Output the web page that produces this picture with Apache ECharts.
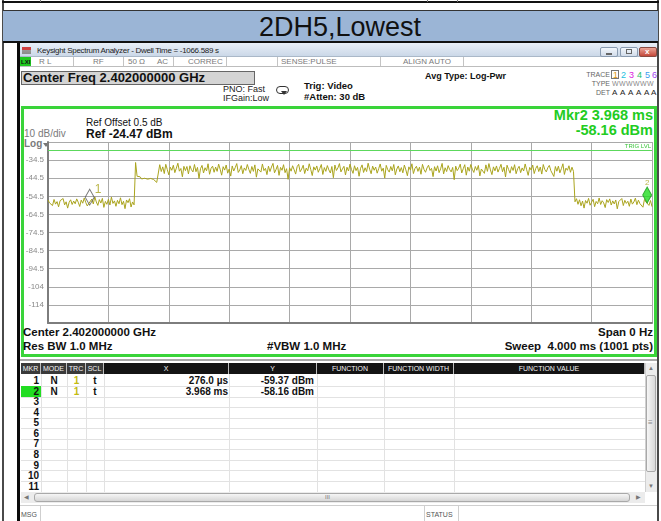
<!DOCTYPE html>
<html>
<head>
<meta charset="utf-8">
<script src="https://cdn.jsdelivr.net/npm/echarts@6/dist/echarts.min.js"></script>
<style>
  html, body { margin: 0; padding: 0; background: #fff; }
  #page { position: relative; width: 661px; height: 521px; overflow: hidden; font-family: "Liberation Sans", Arial, sans-serif; color: #111; }
  .a { position: absolute; box-sizing: border-box; }
  .t { position: absolute; white-space: nowrap; line-height: 1; }
  .b { font-weight: bold; }
  .st { font-size: 8px; color: #7a7a7a; top: 57.5px; }
  .sd { position: absolute; top: 57px; width: 1px; height: 9px; background: #c4c4c4; }
  .tr { position: absolute; top: 70.5px; font-size: 9px; line-height: 1; }
  .dt { position: absolute; top: 88.5px; font-size: 8px; line-height: 1; color: #222; }
  #chart { position: absolute; left: 0; top: 0; width: 661px; height: 521px; z-index: 5; }
</style>
</head>
<body>
<div id="page">
  <!-- document frame around the screenshot -->
  <div class="a" style="left:2px;top:0;width:2px;height:521px;background:#4a4a4a"></div>
  <div class="a" style="left:657px;top:0;width:2px;height:521px;background:#4a4a4a"></div>
  <div class="a" style="left:2px;top:1px;width:657px;height:2px;background:#111"></div>
  <div class="a" style="left:40px;top:0;width:1px;height:2px;background:#777"></div>
  <div class="a" style="left:427px;top:0;width:1px;height:2px;background:#777"></div>
  <div class="a" style="left:457px;top:0;width:1px;height:2px;background:#777"></div>
  <div class="a" style="left:3px;top:10px;width:655px;height:33px;background:#9bb5d6;border-top:1px solid #333;border-bottom:2px solid #111"></div>
  <div class="t" style="left:0;width:680px;text-align:center;top:14px;font-size:27px;color:#111">2DH5,Lowest</div>

  <!-- analyzer window -->
  <div class="a" style="left:17px;top:43px;width:3px;height:478px;background:#0a0a0a"></div>
  <div class="a" style="left:20px;top:43px;width:637px;height:14px;background:linear-gradient(#e9eff7,#cbd8e8);border-bottom:1px solid #aab8c8"></div>
  <div class="a" style="left:22px;top:47px;width:9px;height:7px;background:linear-gradient(#d04040 0,#d04040 40%,#9a9a9a 40%,#8a8a8a 100%)"></div>
  <div class="t" style="left:37px;top:46.5px;font-size:8px;letter-spacing:-0.3px;color:#222">Keysight Spectrum Analyzer - Dwell Time = -1066.589 s</div>
  <div class="a" style="left:600px;top:47px;width:18px;height:10px;border:1px solid #8a9bb0;border-radius:2px;background:linear-gradient(#f2f6fb,#d2dcea)"></div>
  <div class="a" style="left:606px;top:53px;width:6px;height:2px;background:#666"></div>
  <div class="a" style="left:620px;top:47px;width:18px;height:10px;border:1px solid #8a9bb0;border-radius:2px;background:linear-gradient(#f2f6fb,#d2dcea)"></div>
  <div class="a" style="left:626px;top:49px;width:6px;height:5px;border:1px solid #666"></div>
  <div class="a" style="left:639px;top:47px;width:18px;height:10px;border:1px solid #8a4a40;border-radius:2px;background:linear-gradient(#eba497,#c4483a)"></div>
  <div class="t b" style="left:645px;top:48px;font-size:8px;color:#fff">x</div>

  <!-- status row -->
  <div class="a" style="left:20px;top:57px;width:637px;height:10px;background:#fff;border-bottom:1px solid #bdbdbd"></div>
  <div class="a" style="left:20px;top:57px;width:11px;height:9px;background:#1fc81f"></div>
  <div class="t b" style="left:21px;top:58.5px;font-size:6px;color:#111">LXI</div>
  <div class="t st" style="left:39px">R L</div>
  <div class="t st" style="left:93px">RF</div>
  <div class="t st" style="left:128px">50 Ω</div>
  <div class="t st" style="left:157px">AC</div>
  <div class="t st" style="left:188px">CORREC</div>
  <div class="t st" style="left:281px">SENSE:PULSE</div>
  <div class="t st" style="left:403px">ALIGN AUTO</div>
  <div class="sd" style="left:73px"></div>
  <div class="sd" style="left:123px"></div>
  <div class="sd" style="left:173px"></div>
  <div class="sd" style="left:226px"></div>
  <div class="sd" style="left:277px"></div>
  <div class="sd" style="left:380px"></div>
  <div class="sd" style="left:463px"></div>

  <!-- settings header -->
  <div class="a" style="left:21px;top:71px;width:234px;height:14px;background:#d4d4d4;border:1px solid #666"></div>
  <div class="t b" style="left:23px;top:71px;font-size:13px;color:#111">Center Freq 2.402000000 GHz</div>
  <div class="t" style="left:223px;top:84.5px;font-size:9px;color:#222">PNO: Fast</div>
  <div class="t" style="left:223px;top:93.5px;font-size:9px;color:#222">IFGain:Low</div>
  <div class="a" style="left:276px;top:86px;width:13px;height:8px;border:1px solid #333;border-radius:4px"></div>
  <div class="a" style="left:281px;top:91px;width:0;height:0;border-left:3px solid transparent;border-right:3px solid transparent;border-top:4px solid #333"></div>
  <div class="t b" style="left:304px;top:81px;font-size:9.5px;color:#111">Trig: Video</div>
  <div class="t b" style="left:304px;top:92px;font-size:9.5px;color:#111">#Atten: 30 dB</div>
  <div class="t b" style="left:425px;top:72.4px;font-size:9px;color:#111">Avg Type: Log-Pwr</div>
  <div class="t" style="right:51px;top:71px;font-size:7px;color:#666">TRACE</div>
  <div class="t" style="right:51px;top:80px;font-size:7px;color:#666">TYPE</div>
  <div class="t" style="right:51px;top:89px;font-size:7px;color:#666">DET</div>
  <div class="a" style="left:611px;top:70px;width:8px;height:9px;border:1px solid #777"></div>
  <div class="tr" style="left:613px;color:#e39a12">1</div>
  <div class="tr" style="left:621px;color:#1bbfe0">2</div>
  <div class="tr" style="left:629px;color:#dd22dd">3</div>
  <div class="tr" style="left:637px;color:#22c06a">4</div>
  <div class="tr" style="left:645px;color:#3a9cf0">5</div>
  <div class="tr" style="left:652px;color:#a040f0">6</div>
  <div class="t" style="left:612px;top:80px;font-size:7px;color:#8a8a8a;letter-spacing:0.4px">WWWWWW</div>
  <div class="dt" style="left:612px">A</div>
  <div class="dt" style="left:620px">A</div>
  <div class="dt" style="left:628px">A</div>
  <div class="dt" style="left:636px">A</div>
  <div class="dt" style="left:644px">A</div>
  <div class="dt" style="left:651px">A</div>

  <!-- plot frame -->
  <div class="a" style="left:21px;top:106px;width:636px;height:251px;border:3px solid #3ad43a"></div>
  <div class="t" style="left:86px;top:117.5px;font-size:10px;color:#111">Ref Offset 0.5 dB</div>
  <div class="t b" style="left:86px;top:128px;font-size:12px;color:#111">Ref -24.47 dBm</div>
  <div class="t" style="left:24px;top:129px;font-size:10px;color:#7a7a7a">10 dB/div</div>
  <div class="t b" style="left:24px;top:138.5px;font-size:10px;color:#7a7a7a">Log</div>
  <div class="a" style="left:43px;top:143px;width:0;height:0;border-left:3px solid transparent;border-right:3px solid transparent;border-top:4px solid #777"></div>
  <div class="t b" style="right:8px;top:107.5px;font-size:14.5px;color:#22cc22">Mkr2 3.968 ms</div>
  <div class="t b" style="right:8px;top:122.5px;font-size:14.5px;color:#22cc22">-58.16 dBm</div>
  <div class="t b" style="left:23px;top:327.3px;font-size:11.5px;color:#111">Center 2.402000000 GHz</div>
  <div class="t b" style="left:23px;top:341px;font-size:11.5px;color:#111">Res BW 1.0 MHz</div>
  <div class="t b" style="left:267px;top:341px;font-size:11.5px;color:#111">#VBW 1.0 MHz</div>
  <div class="t b" style="right:8px;top:327.3px;font-size:11.5px;color:#111">Span 0 Hz</div>
  <div class="t b" style="right:8px;top:341.3px;font-size:11.5px;color:#111">Sweep&nbsp; 4.000 ms (1001 pts)</div>

  <!-- marker table chrome -->
  <div class="a" style="left:20px;top:359px;width:637px;height:2px;background:#a8a8a8"></div>
  <div id="table"></div>
  <div class="a" style="left:645px;top:363px;width:12px;height:129px;background:#ececec;border-left:1px solid #d0d0d0"></div>
  <div class="t" style="left:648px;top:365px;font-size:6px;color:#777">▲</div>
  <div class="a" style="left:646px;top:375px;width:10px;height:97px;border:1px solid #a9a9a9;border-radius:2px;background:linear-gradient(90deg,#f6f6f6,#d9d9d9)"></div>
  <div class="t" style="left:648px;top:419px;font-size:8px;color:#888">≡</div>
  <div class="t" style="left:648px;top:483px;font-size:6px;color:#777">▼</div>
  <div class="a" style="left:21px;top:492px;width:624px;height:11px;background:#ececec"></div>
  <div class="t" style="left:24px;top:494px;font-size:6px;color:#777">◀</div>
  <div class="a" style="left:34px;top:493px;width:596px;height:9px;border:1px solid #a9a9a9;border-radius:3px;background:linear-gradient(#f6f6f6,#d6d6d6)"></div>
  <div class="t" style="left:325px;top:494px;font-size:6px;color:#777">III</div>
  <div class="t" style="left:636px;top:494px;font-size:6px;color:#777">▶</div>
  <div class="a" style="left:20px;top:505px;width:637px;height:1px;background:#cfcfcf"></div>
  <div class="a" style="left:40px;top:505px;width:1px;height:16px;background:#cfcfcf"></div>
  <div class="a" style="left:424px;top:505px;width:1px;height:16px;background:#cfcfcf"></div>
  <div class="a" style="left:458px;top:505px;width:1px;height:16px;background:#cfcfcf"></div>
  <div class="t" style="left:21px;top:511px;font-size:7px;color:#555">MSG</div>
  <div class="t" style="left:426px;top:511px;font-size:7px;color:#555">STATUS</div>

  <div id="chart"></div>
</div>

<script>
// zero-span sweep: 0..4 ms, trace every 0.01 ms
const sweepStepMs = 0.01;
const traceDbm = [
  // noise floor before the burst (0 .. 0.57 ms)
  -56.5, -58.1, -57.0, -59.6, -56.2, -58.8, -57.4, -60.3, -56.9, -58.0,
  -55.7, -59.2, -57.5, -61.0, -57.8, -56.4, -59.0, -57.1, -58.6, -55.9,
  -57.7, -60.1, -56.6, -58.3, -55.4, -57.9, -59.8, -58.5, -59.4, -56.0,
  -58.7, -54.8, -57.6, -59.5, -56.3, -58.2, -55.6, -60.6, -57.3, -58.9,
  -56.1, -59.3, -54.9, -58.4, -57.0, -60.0, -56.7, -58.6, -55.3, -59.1,
  -57.2, -61.3, -56.5, -58.0, -55.8, -60.4, -57.6, -59.2,
  // rising edge and access-code plateau
  -35.8,
  -43.4, -44.2, -43.7, -44.9, -43.9, -44.5, -43.6, -45.0, -44.1, -44.6,
  -43.8, -45.2, -45.9, -46.8, -45.7,
  // payload (0.74 .. 3.48 ms)
  -37.0, -40.8, -38.2, -41.9, -36.8, -39.7, -42.6, -38.4, -40.1, -37.3,
  -41.4, -38.9, -36.2, -40.6, -39.1, -43.7, -37.9, -40.3, -38.0, -42.1,
  -37.6, -39.8, -41.0, -36.9, -40.9, -38.5, -44.6, -39.2, -37.4, -41.6,
  -38.7, -40.4, -36.5, -42.3, -39.0, -37.8, -41.2, -38.3, -40.7, -36.7,
  -39.5, -42.8, -38.1, -40.0, -37.2, -41.7, -39.4, -43.3, -37.7, -40.5,
  -38.6, -36.4, -41.3, -39.9, -37.5, -42.0, -38.8, -40.2, -36.9, -39.6,
  -41.8, -38.0, -40.7, -37.1, -43.9, -39.3, -38.4, -41.1, -36.6, -40.3,
  -39.0, -42.5, -37.8, -40.8, -38.3, -36.3, -41.5, -39.7, -37.4, -42.9,
  -38.5, -40.1, -37.0, -41.4, -39.2, -45.1, -38.7, -40.6, -37.6, -39.8,
  -42.2, -38.1, -36.8, -40.9, -39.4, -37.3, -41.9, -38.9, -40.4, -36.5,
  -39.6, -43.0, -38.2, -40.0, -37.7, -41.2, -39.1, -36.9, -42.4, -38.6,
  -40.7, -37.5, -39.9, -41.6, -38.0, -44.2, -37.2, -40.2, -38.8, -36.4,
  -41.0, -39.3, -37.9, -42.7, -38.4, -40.5, -36.7, -39.7, -41.8, -37.6,
  -40.3, -38.5, -43.4, -39.0, -37.1, -41.3, -38.7, -40.8, -36.2, -39.5,
  -42.0, -37.8, -40.1, -38.3, -41.7, -39.2, -36.6, -40.6, -38.9, -44.4,
  -37.4, -39.8, -41.1, -38.0, -40.4, -36.9, -42.6, -39.4, -37.7, -40.9,
  -38.6, -41.5, -37.2, -39.9, -43.1, -38.2, -40.0, -36.5, -41.9, -39.1,
  -37.9, -40.7, -38.4, -42.3, -36.8, -39.6, -41.2, -38.8, -37.3, -40.2,
  -39.0, -43.6, -38.1, -40.5, -37.6, -41.4, -39.3, -36.3, -42.1, -38.7,
  -40.8, -37.5, -39.7, -41.0, -38.5, -45.3, -37.8, -40.3, -38.9, -36.7,
  -41.6, -39.2, -37.0, -42.8, -38.3, -40.6, -36.9, -39.5, -41.3, -38.0,
  -40.1, -37.4, -43.2, -39.4, -38.6, -41.8, -37.1, -40.7, -36.4, -39.9,
  -42.5, -38.2, -40.4, -37.7, -41.1, -39.0, -36.8, -40.9, -38.4, -43.8,
  -37.3, -39.6, -41.7, -38.1, -40.2, -37.0, -42.0, -39.3, -37.9, -41.4,
  -38.8, -40.5, -36.6, -39.8, -42.9, -38.5, -40.0, -37.2, -41.9, -39.1,
  -37.6, -40.8, -38.3, -42.2, -36.9, -39.7, -41.0, -38.7, -37.4, -40.3,
  -39.5, -43.5, -38.0, -40.6, -37.8, -41.5, -39.2, -36.5, -42.4, -38.9,
  -40.1, -37.6, -41.2, -38.4, -40.7,
  // noise floor after the burst (3.49 .. 4.0 ms)
  -57.5, -55.8, -58.9, -56.4, -59.7, -57.1, -61.0, -56.8, -58.3, -55.6,
  -59.4, -57.7, -56.1, -60.2, -57.3, -58.6, -55.4, -59.0, -56.9, -58.1,
  -60.7, -56.3, -57.9, -55.9, -59.3, -57.0, -58.7, -56.5, -61.4, -57.4,
  -58.0, -55.7, -59.6, -56.7, -58.4, -57.2, -60.0, -56.0, -58.8, -57.6,
  -55.5, -59.1, -56.6, -58.5, -57.8, -60.5, -56.2, -57.6, -58.2, -59.5,
  -56.8, -60.2
];

const yMin = -124.47;
const yMax = -24.47;
const yTickLabels = ['', '-114', '-104', '-94.5', '-84.5', '-74.5', '-64.5', '-54.5', '-44.5', '-34.5', ''];
const trigLevelDbm = -29;

const markerTimesMs = [0.276, 3.968];
const markerDbm = [-59.37, -58.16];

// marker table
const colEdges = [21, 41, 67, 86, 104, 229, 317, 384, 454, 645];
const colHeads = ['MKR', 'MODE', 'TRC', 'SCL', 'X', 'Y', 'FUNCTION', 'FUNCTION WIDTH', 'FUNCTION VALUE'];
const mkrNumbers = ['1', '2', '3', '4', '5', '6', '7', '8', '9', '10', '11'];
const mkrModes = ['N', 'N'];
const mkrTraces = ['1', '1'];
const mkrScales = ['t', 't'];
const mkrX = ['276.0 µs', '3.968 ms'];
const mkrY = ['-59.37 dBm', '-58.16 dBm'];

const table = document.getElementById('table');
const add = (style, text, cls) => {
  const d = document.createElement('div');
  d.className = cls || 'a';
  d.style.cssText = style;
  if (text) d.textContent = text;
  table.appendChild(d);
};

const bodyTop = 375.4;
const rowH = 10.56;
add(`left:21px;top:363px;width:624px;height:129px;background:#fff`);
colHeads.forEach((h, i) => {
  const l = colEdges[i], w = colEdges[i + 1] - l;
  add(`left:${l}px;top:363px;width:${w}px;height:11px;background:${i < 4 ? '#3a3a3a' : '#141414'};border-right:1px solid #bdbdbd;color:#f2f2f2;font-size:7px;line-height:11px;text-align:center;white-space:nowrap;overflow:hidden`, h);
  add(`left:${colEdges[i + 1]}px;top:374px;width:1px;height:118px;background:#e2e2e2`);
});
for (let k = 1; k <= 11; k++) {
  add(`left:21px;top:${(bodyTop + k * rowH).toFixed(1)}px;width:624px;height:1px;background:#e2e2e2`);
}
mkrNumbers.forEach((n, r) => {
  const top = (bodyTop + r * rowH + 0.6).toFixed(1);
  if (r === 1) add(`left:21px;top:${(bodyTop + rowH).toFixed(1)}px;width:20px;height:${rowH}px;background:#22dd22`);
  add(`left:21px;width:18px;top:${top}px;font-size:10px;text-align:right`, n, 't b');
  if (r < mkrModes.length) {
    add(`left:41px;width:26px;top:${top}px;font-size:10px;text-align:center`, mkrModes[r], 't b');
    add(`left:67px;width:19px;top:${top}px;font-size:10px;text-align:center;color:#c2bb10`, mkrTraces[r], 't b');
    add(`left:86px;width:18px;top:${top}px;font-size:10px;text-align:center`, mkrScales[r], 't b');
    add(`left:104px;width:124px;top:${top}px;font-size:10px;text-align:right`, mkrX[r], 't b');
    add(`left:229px;width:85px;top:${top}px;font-size:10px;text-align:right`, mkrY[r], 't b');
  }
});

const chart = echarts.init(document.getElementById('chart'), null, { renderer: 'canvas' });

const gridColor = '#a9a9a9';
const axisColor = '#7d7d7d';

chart.setOption({
  animation: false,
  grid: { left: 48, top: 142, right: 9, bottom: 198, outerBoundsMode: 'none' },
  xAxis: {
    type: 'value',
    min: 0,
    max: 4,
    interval: 0.4,
    axisLabel: { show: false },
    axisTick: { show: false },
    axisLine: { show: true, onZero: false, lineStyle: { color: axisColor, width: 2 } },
    splitLine: { show: true, lineStyle: { color: gridColor, width: 1 } },
  },
  yAxis: {
    type: 'value',
    min: yMin,
    max: yMax,
    interval: 10,
    axisLine: { show: true, lineStyle: { color: axisColor, width: 2 } },
    axisTick: { show: false },
    axisLabel: {
      fontSize: 8,
      color: '#8a8a8a',
      margin: 4,
      formatter: (v) => yTickLabels[Math.round((v - yMin) / 10)] || '',
    },
    splitLine: { show: true, lineStyle: { color: gridColor, width: 1 } },
  },
  series: [
    {
      type: 'line',
      data: traceDbm.map((v, i) => [i * sweepStepMs, v]),
      symbol: 'none',
      lineStyle: { color: '#aaa41e', width: 1 },
      markLine: {
        silent: true,
        symbol: 'none',
        data: [{ yAxis: trigLevelDbm }],
        lineStyle: { color: '#5cd85c', width: 1, type: 'solid' },
        label: { position: 'insideEndTop', formatter: 'TRIG LVL', fontSize: 6, color: '#3cc43c', distance: 1 },
      },
      z: 3,
    },
    {
      type: 'scatter',
      symbol: 'diamond',
      symbolSize: [9, 16],
      symbolOffset: [0, -8],
      z: 4,
      data: [
        {
          value: [markerTimesMs[0], markerDbm[0]],
          itemStyle: { color: 'rgba(255,255,255,0)', borderColor: '#555', borderWidth: 1 },
          label: { show: true, formatter: '1', position: [10, -5], fontSize: 12, color: '#aaa41e' },
        },
        {
          value: [markerTimesMs[1], markerDbm[1]],
          itemStyle: { color: '#22dd22', borderColor: '#1a9a1a', borderWidth: 1 },
          label: { show: true, formatter: '2', position: 'top', distance: 0, fontSize: 8, color: '#aaa41e' },
        },
      ],
    },
  ],
});
</script>
</body>
</html>
